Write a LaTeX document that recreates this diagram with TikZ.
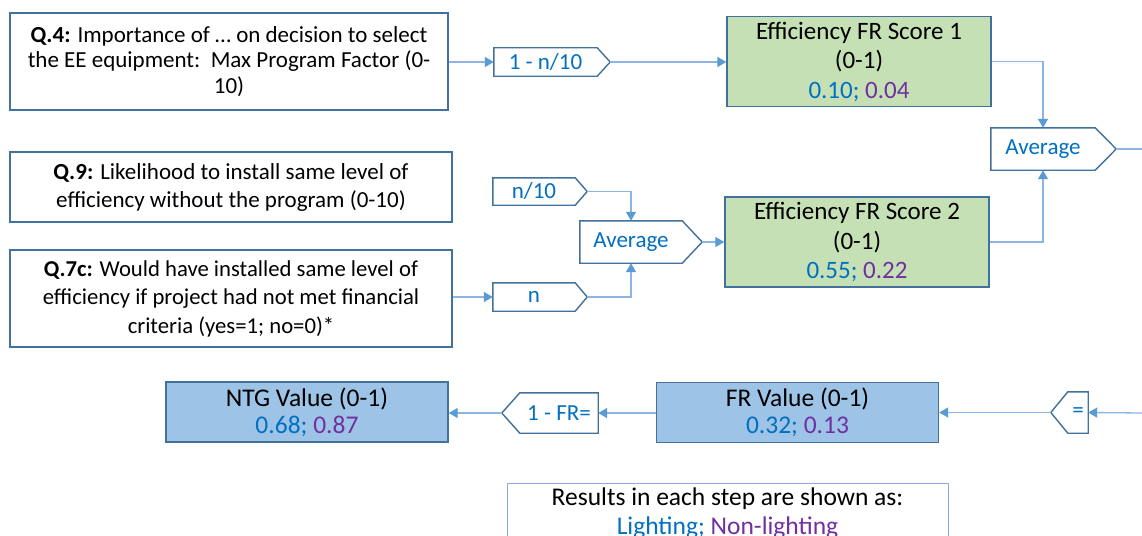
\documentclass[tikz,border=0pt]{standalone}
\usepackage{fontspec}
\setmainfont{Carlito}
\usetikzlibrary{arrows.meta,calc}
\definecolor{bord}{HTML}{41719C}
\definecolor{lineC}{HTML}{8DB4E2}
\definecolor{arrC}{HTML}{5B9BD5}
\definecolor{txtB}{HTML}{0070C0}
\definecolor{txtP}{HTML}{7030A0}
\definecolor{gfill}{HTML}{C5E0B4}
\definecolor{bfill}{HTML}{9DC3E6}
\definecolor{legb}{HTML}{8FAADC}
\tikzset{
  qbox/.style={draw=bord, line width=1.4pt, fill=white, align=center, inner sep=0pt},
  gbox/.style={draw=bord, line width=1.4pt, fill=gfill, align=center, inner sep=0pt,
    minimum width=264pt, minimum height=90pt, font=\fontsize{25}{29.5}\selectfont},
  bbox/.style={draw=bord, line width=1.4pt, fill=bfill, align=center, inner sep=0pt,
    minimum width=282pt, minimum height=60pt, font=\fontsize{25.5}{27}\selectfont},
  pbody/.style={inner sep=0pt, text=txtB, font=\fontsize{23}{24}\selectfont},
  pline/.style={draw=bord, line width=1.4pt, line join=miter},
  conn/.style={draw=lineC, line width=1.3pt, -{Triangle[length=9pt,width=10pt,color=arrC]}},
  plainline/.style={draw=lineC, line width=1.3pt},
  legbox/.style={draw=legb, line width=1pt, align=center, inner sep=0pt,
    minimum width=441pt, minimum height=60pt, font=\fontsize{25.5}{29}\selectfont},
}
\newcommand\pentR[7]{%
  \node[pbody, minimum width=#4pt, minimum height=#5pt] (#1) at (#2,#3) {#7};
  \draw[pline] (#1.north west) -- (#1.north east) -- ([xshift=#6pt]#1.east) coordinate (#1tip)
    -- (#1.south east) -- (#1.south west) -- cycle;}
\newcommand\pentL[7]{%
  \node[pbody, minimum width=#4pt, minimum height=#5pt] (#1) at (#2,#3) {#7};
  \draw[pline] (#1.north east) -- (#1.north west) -- ([xshift=-#6pt]#1.west) coordinate (#1tip)
    -- (#1.south west) -- (#1.south east) -- cycle;}
\begin{document}
\begin{tikzpicture}[x=1pt,y=-1pt]
\clip (0,0) rectangle (1142,535);
\fill[white] (0,0) rectangle (1142,535);

% question boxes
\node[qbox, minimum width=438pt, minimum height=97pt, font=\fontsize{23}{25.5}\selectfont] (q4) at (229,61.5)
  {\textbf{Q.4:} Importance of … on decision to select\\the EE equipment:\ \ Max Program Factor (0-\\10)};
\node[qbox, minimum width=442pt, minimum height=70pt, font=\fontsize{23}{28}\selectfont] (q9) at (231,187)
  {\textbf{Q.9:} Likelihood to install same level of\\efficiency without the program (0-10)};
\node[qbox, minimum width=442pt, minimum height=97pt, font=\fontsize{22.7}{28.5}\selectfont] (q7) at (231,298.5)
  {\textbf{Q.7c:} Would have installed same level of\\efficiency if project had not met financial\\criteria (yes=1; no=0)*};

% green boxes
\node[gbox] (s1) at (859,61.5) {Efficiency FR Score 1\\(0-1)\\{\color{txtB}0.10;} {\color{txtP}0.04}};
\node[gbox] (s2) at (857,242) {Efficiency FR Score 2\\(0-1)\\{\color{txtB}0.55;} {\color{txtP}0.22}};

% blue boxes
\node[bbox] (ntg) at (307,412) {NTG Value (0-1)\\{\color{txtB}0.68;} {\color{txtP}0.87}};
\node[bbox] (fr) at (797.5,412.5) {FR Value (0-1)\\{\color{txtB}0.32;} {\color{txtP}0.13}};

% pentagons
\pentR{pa}{545.5}{62}{103}{28}{13}{1 - n/10}
\pentR{pb}{534}{191.5}{82}{27}{12}{n/10}
\pentR{pc}{534}{297}{82}{28}{12}{n}
\pentR{avgb}{631}{242}{102}{42}{20}{Average}
\pentR{avga}{1043}{149}{104}{42}{21}{Average}
\pentL{pfr}{559}{413}{78}{40}{18}{1 - FR=}
\pentL{peq}{1078}{412.5}{20}{41}{17}{=}

\coordinate (outR) at (1142,149);
\coordinate (inR) at (1142,413);

% connectors
\draw[conn] (q4.east |- pa) -- (pa.west);
\draw[conn] (patip) -- (s1.west |- patip);
\draw[conn] (s1.east) -| (avga.north);
\draw[conn] (s2.east) -| (avga.south);
\draw[plainline] (avgatip) -- (outR);
\draw[conn] (pbtip) -| (avgb.north);
\draw[conn] (pctip) -| (avgb.south);
\draw[conn] (q7.east |- pc) -- (pc.west);
\draw[conn] (avgbtip) -- (s2.west |- avgbtip);
\draw[conn] (inR) -- (peq.east);
\draw[conn] (peqtip) -- (fr.east |- peqtip);
\draw[conn] (fr.west |- pfr) -- (pfr.east);
\draw[conn] (pfrtip) -- (ntg.east |- pfrtip);

% legend
\node[legbox, anchor=north] (leg) at (727.5,483)
  {Results in each step are shown as:\\{\color{txtB}Lighting;} {\color{txtP}Non-lighting}};
\end{tikzpicture}
\end{document}
